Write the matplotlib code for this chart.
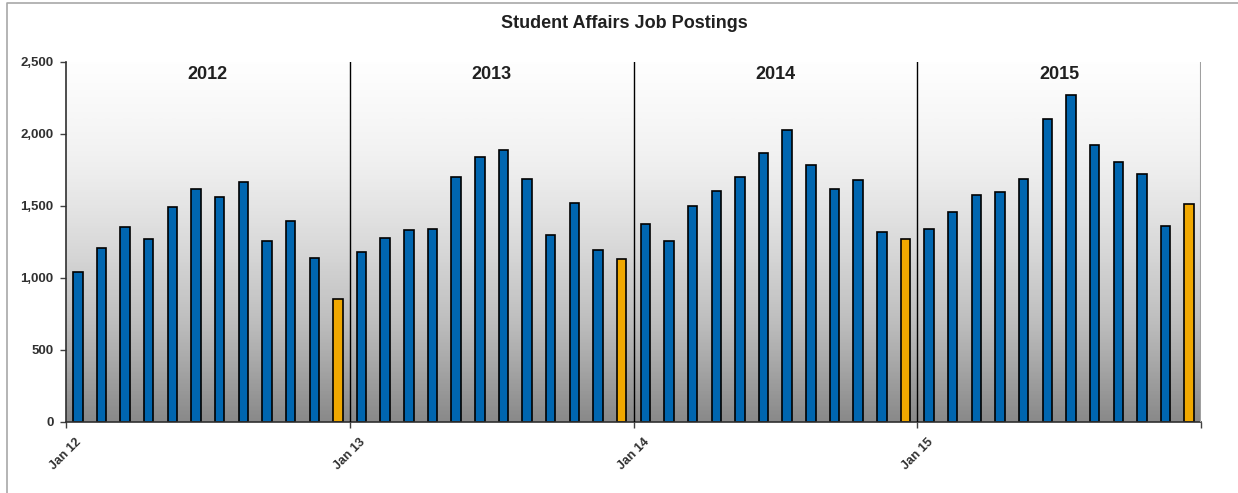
import numpy as np
import matplotlib.pyplot as plt
from matplotlib.lines import Line2D

plt.rcParams['font.family'] = ['Liberation Sans', 'DejaVu Sans']

years = ['2012', '2013', '2014', '2015']
tick_labels = ['Jan 12', 'Jan 13', 'Jan 14', 'Jan 15', '']
postings = [
    1045, 1205, 1351, 1268, 1490, 1615, 1561, 1668, 1256, 1395, 1140, 855,  # 2012
    1182, 1277, 1332, 1340, 1700, 1837, 1888, 1689, 1298, 1522, 1194, 1129,  # 2013
    1372, 1256, 1499, 1605, 1700, 1869, 2026, 1786, 1617, 1679, 1321, 1268,  # 2014
    1341, 1457, 1575, 1594, 1689, 2103, 2269, 1922, 1804, 1721, 1362, 1511,  # 2015
]

BLUE = '#0066b0'
ORANGE = '#f0a800'

fig = plt.figure(figsize=(12.38, 4.93), dpi=100)
# outer chart frame (only top and left edges show)
fig.lines.append(Line2D([7 / 1238, 7 / 1238, 1], [0, 1 - 3 / 493, 1 - 3 / 493],
                        transform=fig.transFigure, color='#a8a8a8', linewidth=1.2))
ax = fig.add_axes([66 / 1238, 1 - 422 / 493, (1201 - 66) / 1238, (422 - 62) / 493])

n = len(postings)
xs = np.arange(n) + 0.5
colors = [ORANGE if i % 12 == 11 else BLUE for i in range(n)]

# gradient plot area, white at the top to grey at the bottom
grad = (np.linspace(0, 1, 256) ** 1.2).reshape(-1, 1)
ax.imshow(grad, extent=[0, n, 0, 2500], aspect='auto', cmap='Greys',
          vmin=-0.02, vmax=1.85, origin='upper', zorder=0)

ax.bar(xs, postings, width=0.4, color=colors, edgecolor='black', linewidth=1.2, zorder=2)

for k in range(1, len(years)):
    ax.axvline(12 * k, color='black', linewidth=1, zorder=3)
ax.axvline(n, color='#a0a0a0', linewidth=1.5, zorder=3)

for k, yr in enumerate(years):
    ax.text(12 * k + 6, 2410, yr, ha='center', va='center', fontsize=13,
            fontweight='bold', color='#202020', zorder=4)

ax.set_xlim(0, n)
ax.set_ylim(0, 2500)
ax.set_xticks(np.arange(0, n + 1, 12))
ax.set_xticklabels(tick_labels, rotation=45, ha='center',
                   fontsize=9, fontweight='bold', color='#303030')
yt = np.arange(0, 2501, 500)
ax.set_yticks(yt)
ax.set_yticklabels(['{:,}'.format(v) for v in yt], fontsize=9.5, fontweight='bold',
                   color='#303030')
ax.tick_params(axis='both', length=4, width=1, color='#404040')
ax.tick_params(axis='x', pad=6)
ax.tick_params(axis='y', pad=5)

ax.spines['top'].set_visible(False)
ax.spines['right'].set_visible(False)
ax.spines['left'].set_color('#303030')
ax.spines['bottom'].set_color('#303030')
ax.spines['left'].set_linewidth(1.2)
ax.spines['bottom'].set_linewidth(1.2)

fig.text(624 / 1238, 1 - 24 / 493, 'Student Affairs Job Postings', ha='center', va='center',
         fontsize=13, fontweight='bold', color='#202020')

plt.savefig('out.png', dpi=100)
